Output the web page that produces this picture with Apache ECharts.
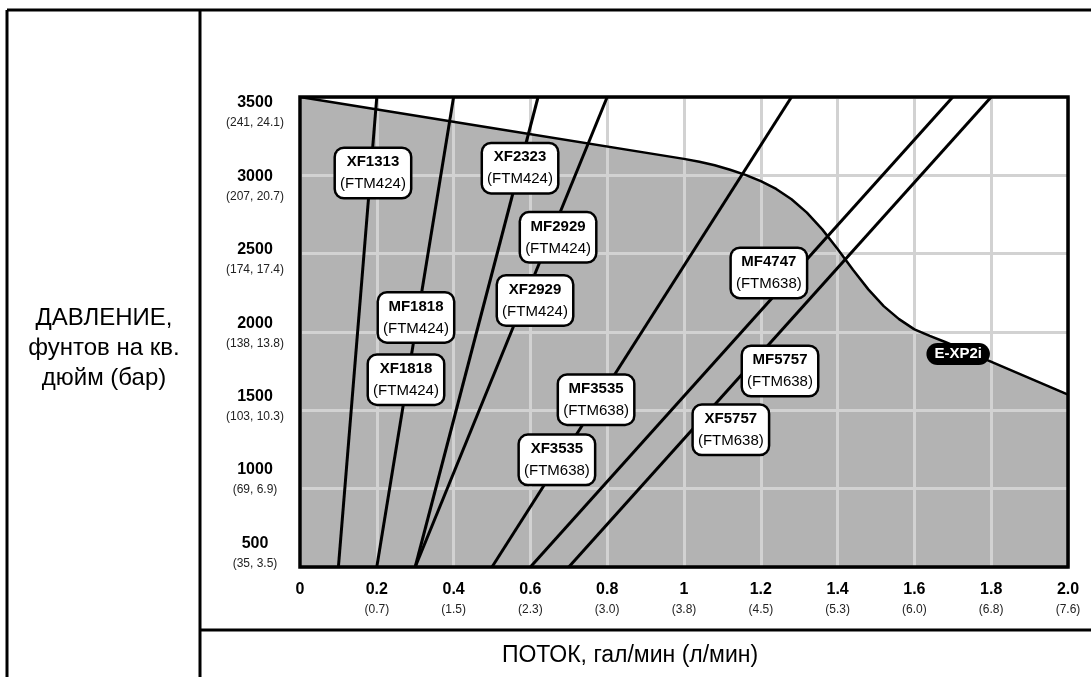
<!DOCTYPE html>
<html>
<head>
<meta charset="utf-8">
<script src="https://cdn.jsdelivr.net/npm/echarts@6/dist/echarts.min.js"></script>
<style>
html,body{margin:0;padding:0;background:#fff;}
#chart{width:1091px;height:677px;}
</style>
</head>
<body>
<div id="chart"></div>
<script>
// ---- data ----
const xTickLabels = ['0','0.2','0.4','0.6','0.8','1','1.2','1.4','1.6','1.8','2.0'];
const xTickSubLabels = ['','(0.7)','(1.5)','(2.3)','(3.0)','(3.8)','(4.5)','(5.3)','(6.0)','(6.8)','(7.6)'];
const yTickValues = [500,1000,1500,2000,2500,3000,3500];
const yTickSubLabels = ['(35, 3.5)','(69, 6.9)','(103, 10.3)','(138, 13.8)','(174, 17.4)','(207, 20.7)','(241, 24.1)'];

// E-XP2i envelope (flow gpm, pressure psi)
const envX = [0, 0.5, 1.00, 1.04, 1.08, 1.12, 1.16, 1.20, 1.24, 1.28, 1.32, 1.36, 1.40, 1.44, 1.48, 1.52, 1.56, 1.60, 1.64, 1.68, 1.72, 1.79, 2.0];
const envY = [3500, 3302, 3105, 3087, 3064, 3036, 3003, 2963, 2913, 2847, 2762, 2655, 2530, 2397, 2272, 2165, 2082, 2017, 1975, 1936, 1895, 1820, 1600];

// nozzle lines: flow at 500 psi and at 3500 psi
const nozzleFlowLow  = [0.1, 0.2, 0.3, 0.3, 0.5, 0.6, 0.7];
const nozzleFlowHigh = [0.2, 0.4, 0.62, 0.8, 1.28, 1.7, 1.8];
const nozzlePressLow = 500;
const nozzlePressHigh = 3500;

// nozzle tags
const tagNames  = ['XF1313','XF2323','MF2929','XF2929','MF1818','XF1818','MF3535','XF3535','MF4747','MF5757','XF5757'];
const tagModels = ['(FTM424)','(FTM424)','(FTM424)','(FTM424)','(FTM424)','(FTM424)','(FTM638)','(FTM638)','(FTM638)','(FTM638)','(FTM638)'];
const tagX = [0.19, 0.573, 0.672, 0.612, 0.302, 0.276, 0.771, 0.669, 1.221, 1.25, 1.122];
const tagY = [3015, 3046, 2604, 2201, 2093, 1696, 1568, 1184, 2377, 1751, 1376];
const pumpName = 'E-XP2i';
const pumpX = [1.714];
const pumpY = [1860];

const yTitleLines = ['ДАВЛЕНИЕ,', 'фунтов на кв.', 'дюйм (бар)'];
const xTitle = 'ПОТОК, гал/мин (л/мин)';

// ---- chart ----
const FONT = '"Liberation Sans", Arial, sans-serif';
const chart = echarts.init(document.getElementById('chart'), null, {renderer:'canvas'});

const envData = envX.map((x,i)=>[x, envY[i]]);

const series = [];
series.push({
  type:'line', data: envData, symbol:'none', silent:true, z:1,
  lineStyle:{width:0, color:'#b3b3b3'},
  areaStyle:{color:'#b3b3b3', opacity:1, origin:'start'}
});
series.push({
  type:'line', data: envData, symbol:'none', silent:true, z:4,
  lineStyle:{width:2.5, color:'#000', join:'round'}
});
nozzleFlowLow.forEach((lo,i)=>{
  series.push({
    type:'line', symbol:'none', silent:true, z:4,
    data:[[lo, nozzlePressLow],[nozzleFlowHigh[i], nozzlePressHigh]],
    lineStyle:{width:3, color:'#000'}
  });
});
series.push({
  type:'scatter', symbol:'circle', symbolSize:1, silent:true, z:6,
  itemStyle:{color:'rgba(0,0,0,0)', opacity:1},
  data: tagNames.map((n,i)=>[tagX[i], tagY[i]]),
  label:{
    show:true, position:'inside', opacity:1,
    formatter:(p)=>'{n|'+tagNames[p.dataIndex]+'}\n{m|'+tagModels[p.dataIndex]+'}',
    backgroundColor:'#fff', borderColor:'#000', borderWidth:2.5, borderRadius:8,
    padding:[2,4], width:66, align:'center', verticalAlign:'middle',
    rich:{
      n:{fontFamily:FONT, fontWeight:'bold', fontSize:15, lineHeight:22, color:'#000', align:'center'},
      m:{fontFamily:FONT, fontSize:15, lineHeight:22, color:'#000', align:'center'}
    }
  },
  labelLayout:{hideOverlap:false}
});
series.push({
  type:'scatter', symbol:'circle', symbolSize:1, silent:true, z:6,
  itemStyle:{color:'rgba(0,0,0,0)', opacity:1},
  data: pumpX.map((x,i)=>[x, pumpY[i]]),
  label:{
    show:true, position:'inside', formatter: pumpName, opacity:1,
    backgroundColor:'#000', borderRadius:11, padding:[2,8],
    color:'#fff', fontFamily:FONT, fontWeight:'bold', fontSize:15, lineHeight:18
  }
});

const gridLine = {show:true, lineStyle:{color:'#d2d2d2', width:3}};

const option = {
  backgroundColor:'#fff',
  animation:false,
  grid:{left:300, top:97, width:768, height:470, show:true, borderColor:'#000', borderWidth:3.5, backgroundColor:'transparent', z:10},
  xAxis:{
    type:'value', min:0, max:2, interval:0.2, z:2,
    axisLine:{show:false}, axisTick:{show:false},
    splitLine:gridLine,
    axisLabel:{
      margin:13,
      formatter:(v,i)=>{
        const idx = Math.round(v/0.2);
        const sub = xTickSubLabels[idx];
        return '{b|'+xTickLabels[idx]+'}' + (sub ? '\n{s|'+sub+'}' : '');
      },
      rich:{
        b:{fontFamily:FONT, fontWeight:'bold', fontSize:16, lineHeight:20, color:'#000'},
        s:{fontFamily:FONT, fontSize:12, lineHeight:20, color:'#222'}
      }
    }
  },
  yAxis:[
    {
      type:'value', min:500, max:3500, interval:500, z:2,
      axisLine:{show:false}, axisTick:{show:false},
      splitLine:gridLine,
      axisLabel:{show:false}
    },
    {
      type:'value', min:408, max:3609, position:'left', z:2,
      axisLine:{show:false}, axisTick:{show:false}, splitLine:{show:false},
      axisLabel:{
        customValues: yTickValues,
        margin:45, align:'center',
        formatter:(v)=>{
          const idx = yTickValues.indexOf(Math.round(v));
          return '{b|'+yTickValues[idx]+'}\n{s|'+yTickSubLabels[idx]+'}';
        },
        rich:{
          b:{fontFamily:FONT, fontWeight:'bold', fontSize:16, lineHeight:20, color:'#000', align:'center'},
          s:{fontFamily:FONT, fontSize:12, lineHeight:20, color:'#222', align:'center'}
        }
      }
    }
  ],
  series: series,
  graphic:[
    {type:'line', shape:{x1:7, y1:10, x2:1091, y2:10}, style:{stroke:'#000', lineWidth:3}, z:20},
    {type:'line', shape:{x1:7, y1:10, x2:7, y2:677}, style:{stroke:'#000', lineWidth:3}, z:20},
    {type:'line', shape:{x1:200, y1:10, x2:200, y2:677}, style:{stroke:'#000', lineWidth:3}, z:20},
    {type:'line', shape:{x1:200, y1:630, x2:1091, y2:630}, style:{stroke:'#000', lineWidth:3}, z:20},
    {type:'text', x:104, y:318, style:{text:yTitleLines[0], font:'24px '+FONT, fill:'#000', textAlign:'center', textVerticalAlign:'middle'}},
    {type:'text', x:104, y:348, style:{text:yTitleLines[1], font:'24px '+FONT, fill:'#000', textAlign:'center', textVerticalAlign:'middle'}},
    {type:'text', x:104, y:378, style:{text:yTitleLines[2], font:'24px '+FONT, fill:'#000', textAlign:'center', textVerticalAlign:'middle'}},
    {type:'text', x:630, y:656, style:{text:xTitle, font:'23px '+FONT, fill:'#000', textAlign:'center', textVerticalAlign:'middle'}}
  ]
};
option.series.forEach(s=>{ s.yAxisIndex = 0; });
chart.setOption(option);
</script>
</body>
</html>
